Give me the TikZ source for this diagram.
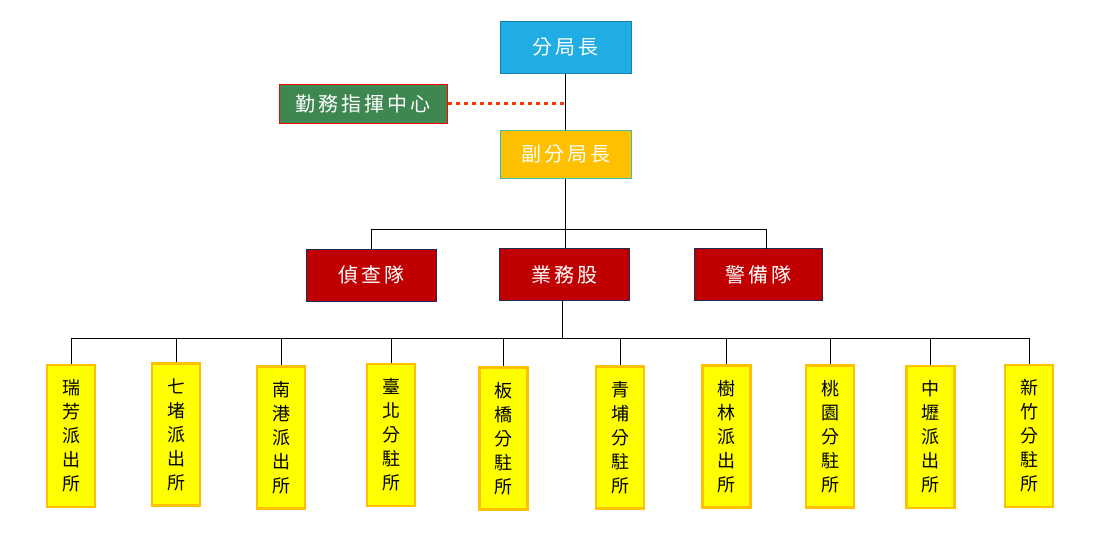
\documentclass[tikz,border=0pt]{standalone}
\usepackage{fontspec}
\newfontfamily\cjk{Noto Sans CJK TC}
\definecolor{topblue}{HTML}{1FADE4}
\definecolor{topblueb}{HTML}{1A7FB0}
\definecolor{cmdgreen}{HTML}{3F8750}
\definecolor{deputy}{HTML}{FFC000}
\definecolor{deputyb}{HTML}{40C0A0}
\definecolor{unitred}{HTML}{C00000}
\definecolor{unitb}{HTML}{1F2A5A}
\definecolor{stayel}{HTML}{FFFF00}
\definecolor{stab}{HTML}{FFC000}
\definecolor{dotred}{HTML}{FF3A00}
\newcommand{\chsp}{\kern3pt}
\tikzset{
  x=1pt, y=-1pt,
  topbox/.style={draw=#1, line width=1pt, inner sep=0pt, font=\cjk\fontsize{20}{20}\selectfont, text=white},
  unitbox/.style={draw=unitb, fill=unitred, line width=1pt, minimum width=130pt, minimum height=52pt, inner sep=0pt, font=\cjk\fontsize{20}{20}\selectfont, text=white},
  stabox/.style={draw=stab, fill=stayel, line width=2.5pt, minimum width=48pt, minimum height=142pt, inner sep=0pt, align=center, font=\cjk\fontsize{18}{24}\selectfont, text=black},
  conn/.style={draw=black, line width=0.8pt}
}
\begin{document}
\begin{tikzpicture}
\useasboundingbox (0,0) rectangle (1100,536);
\node[topbox=topblueb, fill=topblue, minimum width=131pt, minimum height=52pt] (chief) at (565.5,47) {分\chsp 局\chsp 長};
\node[topbox=red, fill=cmdgreen, minimum width=168pt, minimum height=39pt] (cmd) at (363,103.5) {勤\chsp 務\chsp 指\chsp 揮\chsp 中\chsp 心};
\node[topbox=deputyb, fill=deputy, minimum width=131pt, minimum height=48pt] (dep) at (565.5,154) {副\chsp 分\chsp 局\chsp 長};
\node[unitbox] (inv) at (371.5,275) {偵\chsp 查\chsp 隊};
\node[unitbox] (biz) at (564.5,274.5) {業\chsp 務\chsp 股};
\node[unitbox, minimum width=128pt] (guard) at (758,274.5) {警\chsp 備\chsp 隊};

\coordinate (trunk) at (565,229);
\coordinate (jdot) at (565,103.5);
\draw[conn] (chief.south) -- (dep.north);
\draw[dotred, line width=3.5pt, dash pattern=on 4pt off 4pt] (cmd.east) -- (jdot);

\coordinate (gtop) at (766,248.5);
\draw[conn] (trunk |- dep.south) -- (trunk);
\draw[conn] (inv.north) -- (inv.north |- trunk) -- (gtop |- trunk) -- (gtop);
\draw[conn] (trunk) -- (trunk |- biz.north);

\node[stabox] (s1) at (71,436) {瑞\\芳\\派\\出\\所};
\node[stabox] (s2) at (176,434.5) {七\\堵\\派\\出\\所};
\node[stabox] (s3) at (281,437.5) {南\\港\\派\\出\\所};
\node[stabox] (s4) at (391,435) {臺\\北\\分\\駐\\所};
\node[stabox] (s5) at (503.5,438.5) {板\\橋\\分\\駐\\所};
\node[stabox] (s6) at (620,437.5) {青\\埔\\分\\駐\\所};
\node[stabox] (s7) at (726.5,436.5) {樹\\林\\派\\出\\所};
\node[stabox] (s8) at (830,436.5) {桃\\園\\分\\駐\\所};
\node[stabox] (s9) at (930.5,437) {中\\壢\\派\\出\\所};
\node[stabox] (s10) at (1029,436) {新\\竹\\分\\駐\\所};

\coordinate (hB) at (562,338);
\draw[conn] (hB |- biz.south) -- (hB);
\draw[conn] (s1.north) -- (s1.north |- hB) -- (s10.north |- hB) -- (s10.north);
\foreach \i in {2,...,9} { \draw[conn] (s\i.north) -- (s\i.north |- hB); }
\end{tikzpicture}
\end{document}
